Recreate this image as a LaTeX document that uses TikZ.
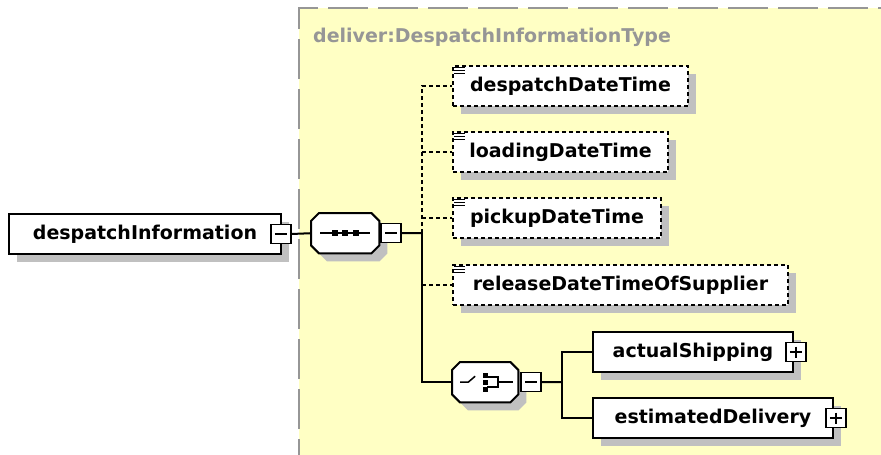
\documentclass[tikz,border=0pt]{standalone}
\usepackage{fontspec}
\setsansfont{DejaVu Sans}
\usetikzlibrary{shadows,calc}
\definecolor{typeyellow}{RGB}{255,255,196}
\definecolor{typegray}{RGB}{150,150,150}
\definecolor{shadowgray}{RGB}{192,192,192}
\tikzset{
  elem/.style={draw, line width=2pt, fill=white, anchor=north west, minimum height=40pt,
    inner sep=0pt, font=\sffamily\bfseries\fontsize{19}{22}\selectfont,
    drop shadow={shadow xshift=8pt, shadow yshift=-8pt, fill=shadowgray, opacity=1}},
  optelem/.style={elem, dash pattern=on 4pt off 3pt},
  compbox/.style={anchor=north west, inner sep=0pt, minimum height=40pt},
  togglebox/.style={draw, line width=1.5pt, fill=white, anchor=west, minimum width=20pt,
    minimum height=19pt, inner sep=0pt},
  minusbox/.style={togglebox, path picture={
    \draw[line width=1.5pt] ($(path picture bounding box.west)+(4pt,0)$) -- ($(path picture bounding box.east)-(4pt,0)$);}},
  plusbox/.style={togglebox, path picture={
    \draw[line width=1.5pt] ($(path picture bounding box.west)+(4pt,0)$) -- ($(path picture bounding box.east)-(4pt,0)$);
    \draw[line width=1.5pt] ($(path picture bounding box.north)-(0,4pt)$) -- ($(path picture bounding box.south)+(0,4pt)$);}},
  link/.style={line width=2pt},
  optlink/.style={line width=2pt, dash pattern=on 4pt off 3pt}
}
% simple type marker in the top left corner of an element
\newcommand{\simpleicon}[1]{%
  \foreach \dy in {2.5,5.5,8.5}
    \draw[line width=1pt] ([shift={(2pt,-\dy pt)}]#1.north west) -- ++(11,0);}
% octagon outline (with shadow) round a compositor node
\newcommand{\octagon}[1]{%
  \fill[shadowgray] let \p1=(#1.north west), \p2=(#1.south east) in
    (\x1+16pt,\y1-8pt) -- (\x2,\y1-8pt) -- (\x2+8pt,\y1-16pt) -- (\x2+8pt,\y2) -- (\x2,\y2-8pt) -- (\x1+16pt,\y2-8pt) -- (\x1+8pt,\y2) -- (\x1+8pt,\y1-16pt) -- cycle;
  \draw[fill=white, line width=2pt] let \p1=(#1.north west), \p2=(#1.south east) in
    (\x1+8pt,\y1) -- (\x2-8pt,\y1) -- (\x2,\y1-8pt) -- (\x2,\y2+8pt) -- (\x2-8pt,\y2) -- (\x1+8pt,\y2) -- (\x1,\y2+8pt) -- (\x1,\y1-8pt) -- cycle;}
\begin{document}
\begin{tikzpicture}[x=1pt,y=-1pt]
\useasboundingbox (0,0) rectangle (881,455);
% complex type area
\fill[typeyellow] (299,8) rectangle (881,455);
\draw[typegray, line width=2pt, dash pattern=on 40pt off 10pt, dash phase=24pt] (299,455) -- (299,8) -- (881,8);
\node[anchor=west, text=typegray, font=\sffamily\bfseries\fontsize{19}{22}\selectfont, inner sep=0pt] (typename) at (313,37) {deliver:DespatchInformationType};
% root element and sequence
\node[elem, minimum width=272pt] (dispinfo) at (8,213) {despatchInformation};
\node[minusbox] (dispinfotoggle) at ([xshift=-12pt]dispinfo.east) {};
\node[compbox, minimum width=68pt] (seq) at (311,213) {};
\octagon{seq}
\node[minusbox] (seqtoggle) at ([xshift=1pt]seq.east) {};
\draw[link] ([xshift=-25pt]seq.center) -- ([xshift=25pt]seq.center);
\foreach \dx in {-10,0,11}
  \fill ([xshift=\dx pt]seq.center) +(-3,-3) rectangle +(3,3);
\draw[link] (dispinfotoggle.east) -- (seq.west);
\coordinate (seqfork) at (422,233);
\draw[link] (seqtoggle.east) -- (seqfork);
% optional simple elements
\node[optelem, minimum width=235pt] (despatch) at (452,65) {despatchDateTime};
\node[optelem, minimum width=215pt] (loading) at (452,131) {loadingDateTime};
\node[optelem, minimum width=208pt] (pickup) at (452,197) {pickupDateTime};
\node[optelem, minimum width=335pt] (release) at (452,264) {releaseDateTimeOfSupplier};
\simpleicon{despatch}
\simpleicon{loading}
\simpleicon{pickup}
\simpleicon{release}
\draw[optlink] (seqfork) |- (despatch.west);
\draw[optlink] (seqfork |- loading.west) -- (loading.west);
\draw[optlink] (seqfork |- pickup.west) -- (pickup.west);
\draw[optlink] (seqfork |- release.west) -- (release.west);
% choice
\node[compbox, minimum width=66pt] (choice) at (452,362) {};
\octagon{choice}
\node[minusbox] (choicetoggle) at ([xshift=2pt]choice.east) {};
\draw[link] (seqfork) |- (choice.west);
\draw[line width=1.5pt] ([xshift=-25pt]choice.center) -- ++(8,0) -- ++(7,-6);
\foreach \dy in {-7,0,7}
  \fill ([yshift=\dy pt]choice.center) +(-2.5,-2.5) rectangle +(2.5,2.5);
\draw[line width=1.5pt] ([shift={(2pt,5pt)}]choice.center) -- ++(11,0) -- ++(0,10) -- ++(-11,0);
\draw[line width=1.5pt] ([xshift=13pt]choice.center) -- ++(15,0);
\coordinate (choicefork) at (562,382);
\draw[link] (choicetoggle.east) -- (choicefork);
\node[elem, minimum width=200pt] (actual) at (592,331) {actualShipping};
\node[plusbox] (actualtoggle) at ([xshift=-9pt]actual.east) {};
\node[elem, minimum width=240pt] (estimated) at (592,397) {estimatedDelivery};
\node[plusbox] (estimatedtoggle) at ([xshift=-9pt]estimated.east) {};
\draw[link] (choicefork) |- (actual.west);
\draw[link] (choicefork) |- (estimated.west);
\end{tikzpicture}
\end{document}
